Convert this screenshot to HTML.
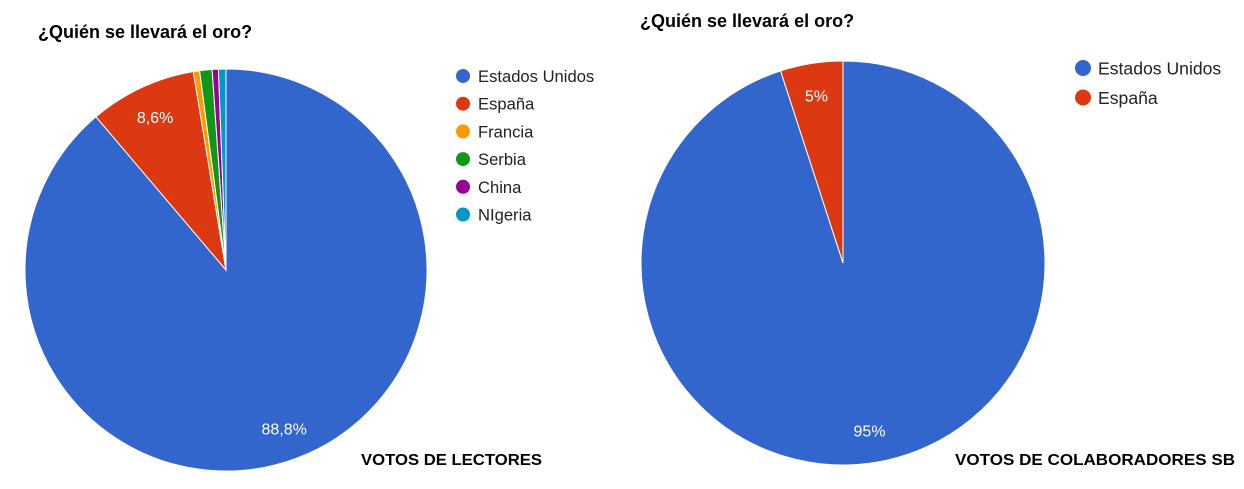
<!DOCTYPE html>
<html><head><meta charset="utf-8">
<style>
body{margin:0;width:1244px;height:489px;background:#fff;overflow:hidden;font-family:"Liberation Sans",sans-serif}
svg{position:absolute;left:0;top:0}
</style></head>
<body>
<svg id="chart" width="1244" height="489">
<text x="38" y="38" font-size="18" font-weight="bold" fill="#000">¿Quién se llevará el oro?</text>
<text x="640" y="27" font-size="18" font-weight="bold" fill="#000">¿Quién se llevará el oro?</text>
<text x="361" y="465" font-size="16" font-weight="bold" fill="#000" textLength="181" lengthAdjust="spacingAndGlyphs">VOTOS DE LECTORES</text>
<text x="955" y="465" font-size="16" font-weight="bold" fill="#000" textLength="280" lengthAdjust="spacingAndGlyphs">VOTOS DE COLABORADORES SB</text>
<g id="left"></g><g id="right"></g>
</svg>
<script>
const leftCategories=["Estados Unidos","España","Francia","Serbia","China","NIgeria"];
const leftValues=[88.8,8.6,0.5,1.0,0.5,0.6];
const leftLabels=["88,8%","8,6%","","","",""];
const rightCategories=["Estados Unidos","España"];
const rightValues=[95,5];
const rightLabels=["95%","5%"];
const colors=["#3366cc","#dc3912","#ff9900","#109618","#990099","#0099c6"];
const NS="http://www.w3.org/2000/svg";
function mk(t,a){const e=document.createElementNS(NS,t);for(const k in a)e.setAttribute(k,a[k]);return e;}
function pie(g,cats,vals,labels,cx,cy,r,lx,ly,lsp,lfs,lr){
  const tot=vals.reduce((a,b)=>a+b,0);let acc=0;
  vals.forEach((v,i)=>{
    const a0=acc/tot*2*Math.PI,a1=(acc+v)/tot*2*Math.PI;acc+=v;
    const x0=cx+r*Math.sin(a0),y0=cy-r*Math.cos(a0),x1=cx+r*Math.sin(a1),y1=cy-r*Math.cos(a1);
    const large=(a1-a0)>Math.PI?1:0;
    const p=mk("path",{d:`M${cx},${cy}L${x0},${y0}A${r},${r} 0 ${large} 1 ${x1},${y1}Z`,fill:colors[i],stroke:"#fff","stroke-width":1});
    
    
    g.appendChild(p);
    if(labels[i]){
      const am=(a0+a1)/2;
      const t=mk("text",{x:cx+0.84*r*Math.sin(am),y:cy-0.84*r*Math.cos(am)+6,"text-anchor":"middle","font-size":16,fill:"#fff"});
      t.textContent=labels[i];
      
      
      g.appendChild(t);
    }
    const c=mk("circle",{cx:lx,cy:ly+i*lsp,r:lr,fill:colors[i]});
    
    
    g.appendChild(c);
    const t=mk("text",{x:lx+15,y:ly+i*lsp+lfs*0.36,"font-size":lfs,fill:"#222"});
    t.textContent=cats[i];
    
    
    g.appendChild(t);
  });
}
pie(document.getElementById("left"),leftCategories,leftValues,leftLabels,226,270,201,463,76,27.7,16.6,7);
pie(document.getElementById("right"),rightCategories,rightValues,rightLabels,843,263,202,1083,68,29.5,17.6,8);
</script>
</body></html>
